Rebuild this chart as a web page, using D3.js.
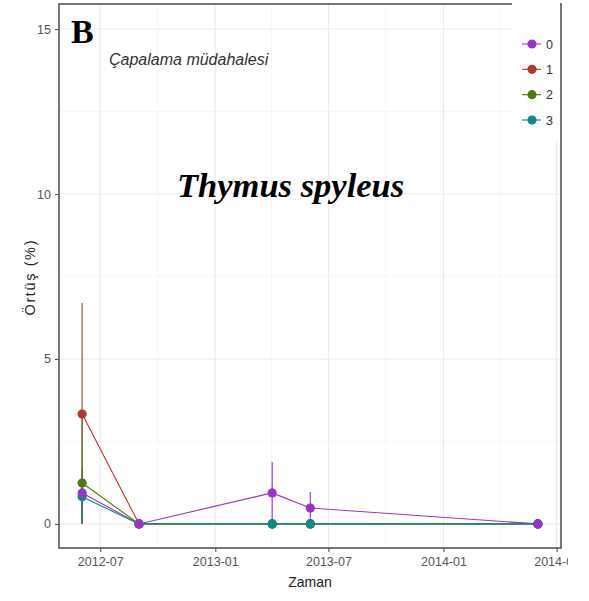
<!DOCTYPE html>
<html>
<head>
<meta charset="utf-8">
<script src="https://cdn.jsdelivr.net/npm/d3@7"></script>
<style>
  html, body { margin: 0; padding: 0; background: #fff; }
  svg { display: block; }
</style>
</head>
<body>
<svg id="chart" width="589" height="601"></svg>
<script>
// Sampling dates and treatment groups
const dates = ["2012-06-02", "2012-09-01", "2013-04-02", "2013-06-02", "2014-06-01"];
const groups = ["0", "1", "2", "3"];
const groupColors = ["#9932cc", "#b2382b", "#4b7a12", "#0b898b"];

// Mean cover (%) per group at each date
const mean0 = [0.94, 0, 0.94, 0.48, 0];
const mean1 = [3.33, 0, 0, 0, 0];
const mean2 = [1.24, 0, 0, 0, 0];
const mean3 = [0.82, 0, 0, 0, 0];

// Error bar limits per group
const low0 = [0, 0, 0, 0, 0];
const high0 = [1.7, 0, 1.88, 0.97, 0];
const low1 = [0, 0, 0, 0, 0];
const high1 = [6.7, 0, 0, 0, 0];
const low2 = [0, 0, 0, 0, 0];
const high2 = [3.2, 0, 0, 0, 0];
const low3 = [0, 0, 0, 0, 0];
const high3 = [1.2, 0, 0, 0, 0];

// Axis ticks
const xTickLabels = ["2012-07", "2013-01", "2013-07", "2014-01", "2014-07"];
const xMinorLabels = ["2012-10", "2013-04", "2013-10", "2014-04"];
const yTicks = [0, 5, 10, 15];
const yMinor = [2.5, 7.5, 12.5];

// Stacking order of the point markers (bottom to top)
const pointOrder = ["1", "2", "3", "0"];

const means = [mean0, mean1, mean2, mean3];
const lows = [low0, low1, low2, low3];
const highs = [high0, high1, high2, high3];

const parse = d3.utcParse("%Y-%m-%d");
const parseMonth = d3.utcParse("%Y-%m");

const series = groups.map((g, gi) => ({
  group: g,
  color: groupColors[gi],
  values: dates.map((d, i) => ({
    date: parse(d), mean: means[gi][i], low: lows[gi][i], high: highs[gi][i]
  }))
}));

const panel = { left: 59, right: 561, top: 4, bottom: 548 };

const x = d3.scaleUtc()
  .domain([parse("2012-04-26"), parse("2014-07-08")])
  .range([panel.left, panel.right]);
const y = d3.scaleLinear()
  .domain([-0.73, 15.76])
  .range([panel.bottom, panel.top]);

const svg = d3.select("#chart");
const defs = svg.append("defs");
defs.append("clipPath").attr("id", "panelClip")
  .append("rect")
  .attr("x", panel.left).attr("y", panel.top)
  .attr("width", panel.right - panel.left).attr("height", panel.bottom - panel.top);
defs.append("clipPath").attr("id", "pageClip")
  .append("rect").attr("x", 0).attr("y", 0).attr("width", 568).attr("height", 601);

// Grid
const grid = svg.append("g").attr("clip-path", "url(#panelClip)");
grid.selectAll("line.ymin").data(yMinor).join("line")
  .attr("x1", panel.left).attr("x2", panel.right)
  .attr("y1", d => y(d)).attr("y2", d => y(d))
  .attr("stroke", "#f2f2f2").attr("stroke-width", 0.7);
grid.selectAll("line.xmin").data(xMinorLabels).join("line")
  .attr("x1", d => x(parseMonth(d))).attr("x2", d => x(parseMonth(d)))
  .attr("y1", panel.top).attr("y2", panel.bottom)
  .attr("stroke", "#f2f2f2").attr("stroke-width", 0.7);
grid.selectAll("line.ymaj").data(yTicks).join("line")
  .attr("x1", panel.left).attr("x2", panel.right)
  .attr("y1", d => y(d)).attr("y2", d => y(d))
  .attr("stroke", "#ebebeb").attr("stroke-width", 1.1);
grid.selectAll("line.xmaj").data(xTickLabels).join("line")
  .attr("x1", d => x(parseMonth(d))).attr("x2", d => x(parseMonth(d)))
  .attr("y1", panel.top).attr("y2", panel.bottom)
  .attr("stroke", "#ebebeb").attr("stroke-width", 1.1);

// Data layers
const plot = svg.append("g").attr("clip-path", "url(#panelClip)");

// error bars
series.forEach(s => {
  plot.append("g").selectAll("line")
    .data(s.values.filter(v => v.high > v.mean || v.low < v.mean))
    .join("line")
    .attr("x1", d => x(d.date)).attr("x2", d => x(d.date))
    .attr("y1", d => y(d.low)).attr("y2", d => y(d.high))
    .attr("stroke", s.color).attr("stroke-width", 1.1);
});

// connecting lines
const line = d3.line().x(d => x(d.date)).y(d => y(d.mean));
series.forEach(s => {
  plot.append("path").datum(s.values)
    .attr("d", line)
    .attr("fill", "none")
    .attr("stroke", s.color).attr("stroke-width", 1.1);
});

// points
pointOrder.forEach(g => {
  const s = series.find(d => d.group === g);
  plot.append("g").selectAll("circle").data(s.values).join("circle")
    .attr("cx", d => x(d.date)).attr("cy", d => y(d.mean))
    .attr("r", 4.6).attr("fill", s.color);
});

// Panel border
svg.append("rect")
  .attr("x", panel.left).attr("y", panel.top)
  .attr("width", panel.right - panel.left).attr("height", panel.bottom - panel.top)
  .attr("fill", "none").attr("stroke", "#555").attr("stroke-width", 1.6);

// Axes
const xAxis = svg.append("g")
  .attr("transform", `translate(0,${panel.bottom})`)
  .attr("clip-path", "url(#pageClip)")
  .call(d3.axisBottom(x)
    .tickValues(xTickLabels.map(d => parseMonth(d)))
    .tickFormat(d3.utcFormat("%Y-%m"))
    .tickSize(4).tickPadding(5));
const yAxis = svg.append("g")
  .attr("transform", `translate(${panel.left},0)`)
  .call(d3.axisLeft(y).tickValues(yTicks).tickFormat(d3.format("d"))
    .tickSize(4).tickPadding(4));
[xAxis, yAxis].forEach(a => {
  a.select(".domain").remove();
  a.selectAll(".tick line").attr("stroke", "#555").attr("stroke-width", 1.1);
  a.selectAll(".tick text")
    .attr("fill", "#555")
    .style("font-family", "'Liberation Sans', Arial, sans-serif")
    .style("font-size", "12.5px");
});

// Axis titles
svg.append("text")
  .attr("x", (panel.left + panel.right) / 2).attr("y", 587)
  .attr("text-anchor", "middle")
  .style("font-family", "'Liberation Sans', Arial, sans-serif")
  .style("font-size", "14px").attr("fill", "#222")
  .text("Zaman");
svg.append("text")
  .attr("transform", `translate(35,${(panel.top + panel.bottom) / 2 + 2}) rotate(-90)`)
  .attr("text-anchor", "middle")
  .attr("textLength", 75).attr("lengthAdjust", "spacing")
  .style("font-family", "'Liberation Sans', Arial, sans-serif")
  .style("font-size", "14.5px").attr("fill", "#222")
  .text("Örtüş (%)");

// Legend
const legend = svg.append("g");
legend.append("rect")
  .attr("x", 512).attr("y", 0).attr("width", 48).attr("height", 140)
  .attr("fill", "#fff");
const legendY = d3.scalePoint().domain(groups).range([44, 120]);
groups.forEach((g, gi) => {
  const ly = legendY(g);
  legend.append("line")
    .attr("x1", 522).attr("x2", 541).attr("y1", ly).attr("y2", ly)
    .attr("stroke", groupColors[gi]).attr("stroke-width", 1.1);
  legend.append("circle")
    .attr("cx", 532).attr("cy", ly).attr("r", 4.6).attr("fill", groupColors[gi]);
  legend.append("text")
    .attr("x", 546).attr("y", ly + 4.5)
    .style("font-family", "'Liberation Sans', Arial, sans-serif")
    .style("font-size", "12.5px").attr("fill", "#333")
    .text(g);
});

// Annotations
svg.append("text")
  .attr("x", 71).attr("y", 43)
  .style("font-family", "'Liberation Serif', 'Times New Roman', serif")
  .style("font-weight", "bold").style("font-size", "34px").attr("fill", "#000")
  .text("B");
svg.append("text")
  .attr("x", 109).attr("y", 65)
  .style("font-family", "'Liberation Sans', Arial, sans-serif")
  .style("font-style", "italic").style("font-size", "16px").attr("fill", "#333")
  .text("Çapalama müdahalesi");
svg.append("text")
  .attr("x", 177).attr("y", 197)
  .style("font-family", "'Liberation Serif', 'Times New Roman', serif")
  .style("font-weight", "bold").style("font-style", "italic")
  .style("font-size", "34.5px").attr("fill", "#000")
  .text("Thymus spyleus");
</script>
</body>
</html>
